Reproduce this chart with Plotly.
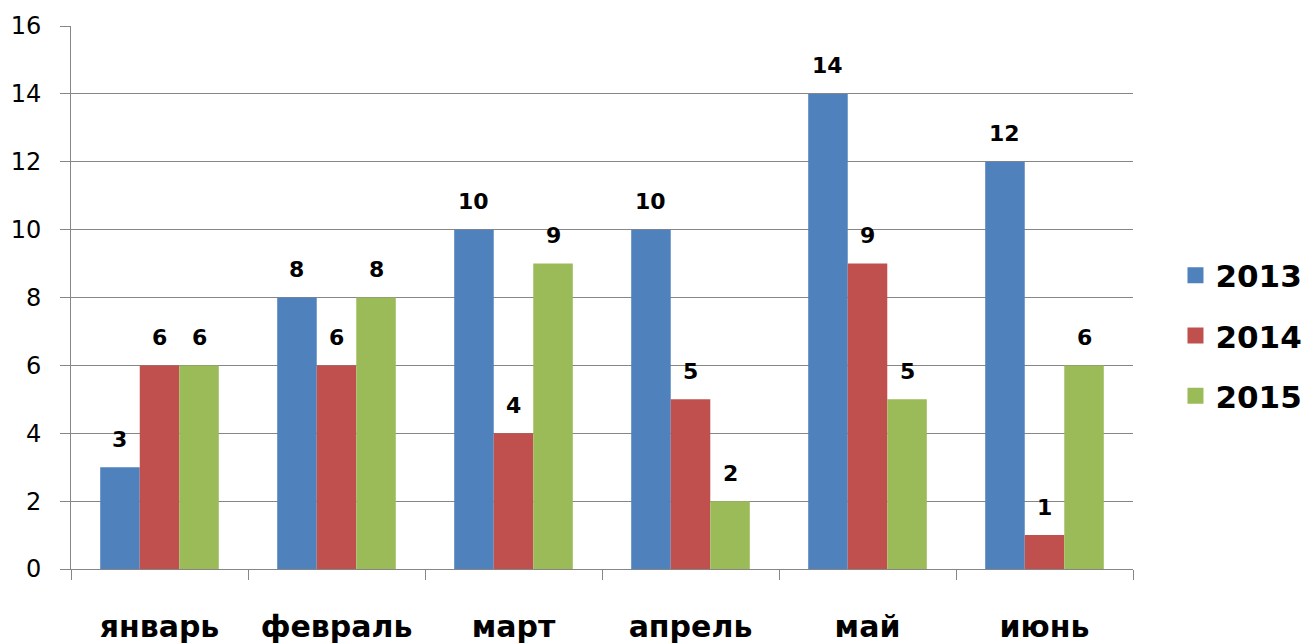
import plotly.graph_objects as go

months = ["январь", "февраль", "март", "апрель", "май", "июнь"]
years = ["2013", "2014", "2015"]
v2013 = [3, 8, 10, 10, 14, 12]
v2014 = [6, 6, 4, 5, 9, 1]
v2015 = [6, 8, 9, 2, 5, 6]
y_ticks = [0, 2, 4, 6, 8, 10, 12, 14, 16]

colors = ["#4F81BD", "#C0504D", "#9BBB59"]
series = [v2013, v2014, v2015]

W, H = 1307, 635
ml, mr, mt, mb = 63, 182, 18, 74
plot_w = W - ml - mr
bargap = 0.33
cat_w = plot_w / len(months)
bar_w = cat_w * (1 - bargap) / len(series)

fig = go.Figure()
for i, (name, vals, col) in enumerate(zip(years, series, colors)):
    fig.add_trace(go.Bar(
        x=months, y=vals, name=name, marker_color=col, marker_line_width=0,
        showlegend=False,
    ))
    # legend-only entry with larger square marker
    fig.add_trace(go.Scatter(
        x=[None], y=[None], mode="markers", name=name, legendgroup=name,
        marker=dict(symbol="square", size=16, color=col),
    ))
    xshift = (i - (len(series) - 1) / 2) * bar_w
    for m, v in zip(months, vals):
        fig.add_annotation(
            x=m, y=v, text=str(v), showarrow=False, xshift=xshift, yshift=28,
            font=dict(family="DejaVu Sans", size=22, color="black", weight="bold"),
        )

fig.update_layout(
    width=W, height=H,
    margin=dict(l=ml, r=mr, t=mt, b=mb, autoexpand=False),
    paper_bgcolor="white", plot_bgcolor="white",
    barmode="group", bargap=bargap, bargroupgap=0,
    font=dict(family="DejaVu Sans", color="black"),
    showlegend=True,
    legend=dict(x=1.04, y=0.43, xanchor="left", yanchor="middle",
                font=dict(size=31, weight="bold", family="DejaVu Sans"),
                tracegroupgap=17, itemsizing="trace", itemwidth=30),
    xaxis=dict(showline=True, linecolor="#868686", linewidth=1, automargin=False,
               ticks="outside", tickson="boundaries", ticklen=10, tickcolor="#868686",
               tickfont=dict(size=30, weight="bold"), ticklabelstandoff=31,
               showgrid=False),
    yaxis=dict(range=[0, 16], tickvals=y_ticks, showline=True, linecolor="#868686",
               linewidth=1, ticks="outside", ticklen=10, tickcolor="#868686",
               automargin=False,
               showgrid=True, gridcolor="#868686", gridwidth=1,
               tickfont=dict(size=24), ticklabelstandoff=14, zeroline=False),
)

fig.write_html("out.html")
